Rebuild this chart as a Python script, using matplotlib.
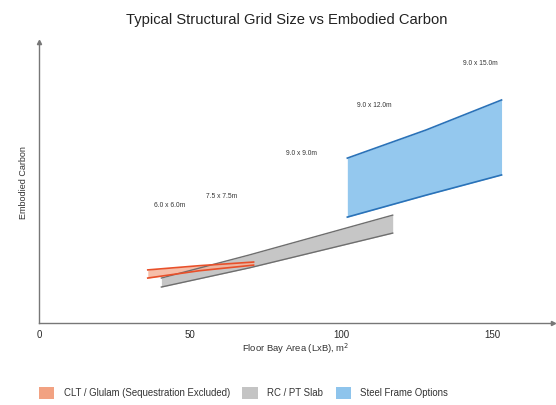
import matplotlib
matplotlib.use("Agg")
import matplotlib.pyplot as plt
from matplotlib.patches import Patch

plt.rcParams['font.family'] = ['Liberation Sans', 'DejaVu Sans']

# Bay area (m2) and embodied carbon envelope (relative units) for each system
clt_x = [36, 53, 71]
clt_low = [16.0, 18.6, 20.6]
clt_high = [18.9, 20.4, 21.7]

rc_x = [40.5, 69.5, 117]
rc_low = [12.8, 19.6, 32.0]
rc_high = [16.0, 24.2, 38.4]

steel_x = [102, 128, 153]
steel_low = [37.7, 45.5, 52.7]
steel_high = [58.7, 68.7, 79.4]

grid_labels = ["6.0 x 6.0m", "7.5 x 7.5m", "9.0 x 9.0m", "9.0 x 12.0m", "9.0 x 15.0m"]
grid_label_x = [43.2, 60.4, 86.8, 110.9, 145.9]
grid_label_y = [42.0, 45.2, 60.5, 77.6, 92.5]

xticks = [0, 50, 100, 150]

fig = plt.figure(figsize=(5.56, 4.05), dpi=100)
ax = fig.add_axes([0.070, 0.2025, 0.9245, 0.6935])

ax.fill_between(rc_x, rc_low, rc_high, color="#c6c6c6", lw=0)
ax.plot(rc_x, rc_low, color="#6e6e6e", lw=1.0)
ax.plot(rc_x, rc_high, color="#6e6e6e", lw=1.0)

ax.fill_between(clt_x, clt_low, clt_high, color="#f4b39a", alpha=0.85, lw=0)
ax.plot(clt_x, clt_low, color="#e8502a", lw=1.2)
ax.plot(clt_x, clt_high, color="#e8502a", lw=1.2)

ax.fill_between(steel_x, steel_low, steel_high, color="#94c8ee", lw=0)
ax.plot(steel_x, steel_low, color="#2a72b8", lw=1.2)
ax.plot(steel_x, steel_high, color="#2a72b8", lw=1.2)

for t, x, y in zip(grid_labels, grid_label_x, grid_label_y):
    ax.text(x, y, t, fontsize=4.8, color="#333333", ha="center", va="center")

ax.set_xlim(0, 170)
ax.set_ylim(0, 100)
ax.set_xticks(xticks)
ax.set_yticks([])
ax.tick_params(axis="x", length=0, pad=5, labelsize=7, labelcolor="#2a2a2a")
for s in ["top", "right"]:
    ax.spines[s].set_visible(False)
for s in ["left", "bottom"]:
    ax.spines[s].set_color("#777777")
    ax.spines[s].set_linewidth(1.0)
ax.plot(1, 0, ">", color="#777777", ms=3, transform=ax.transAxes, clip_on=False)
ax.plot(0, 1, "^", color="#777777", ms=3, transform=ax.transAxes, clip_on=False)

ax.set_xlabel("Floor Bay Area (LxB), m$^2$", fontsize=6.8, color="#333333", labelpad=1)
ax.set_ylabel("Embodied Carbon", fontsize=6.5, color="#333333", labelpad=8)

fig.text(0.516, 0.95, "Typical Structural Grid Size vs Embodied Carbon",
         fontsize=10.6, color="#222222", ha="center", va="center")

handles = [
    Patch(facecolor="#f2a282", edgecolor="none", label="CLT / Glulam (Sequestration Excluded)"),
    Patch(facecolor="#c4c4c4", edgecolor="none", label="RC / PT Slab"),
    Patch(facecolor="#8ec4ec", edgecolor="none", label="Steel Frame Options"),
]
fig.legend(handles=handles, loc="center", bbox_to_anchor=(0.438, 0.03), ncol=3,
           frameon=False, fontsize=6.9, handlelength=1.6, handleheight=1.6,
           columnspacing=1.3, handletextpad=1.0, labelcolor="#333333")

fig.savefig("out.png", dpi=100, facecolor="white")
